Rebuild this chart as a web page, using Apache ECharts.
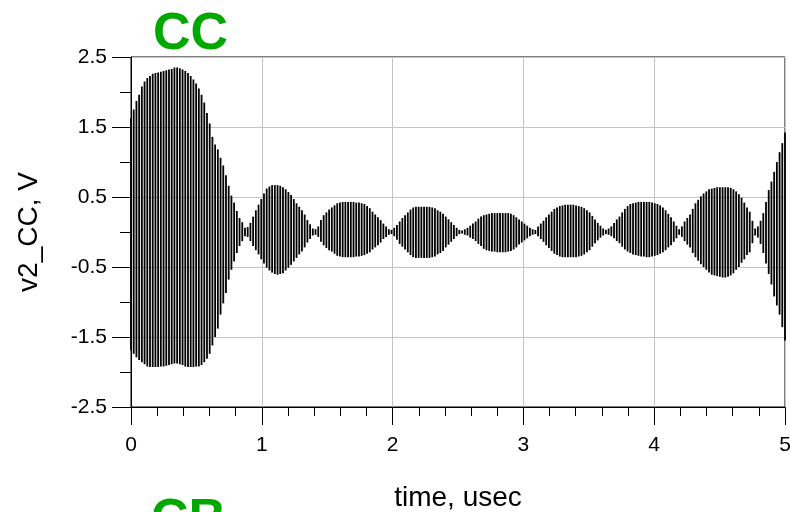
<!DOCTYPE html>
<html>
<head>
<meta charset="utf-8">
<script src="https://cdn.jsdelivr.net/npm/echarts@6/dist/echarts.min.js"></script>
<style>
html,body{margin:0;padding:0;background:#fff;}
#c{width:790px;height:512px;}
</style>
</head>
<body>
<div id="c"></div>
<script>
// Transient waveform v2_CC (V) vs time (usec); one entry per carrier cycle
const sampleStep = 5 / 241; // usec between cycles
const peakHigh = [
1.63,1.75,1.87,1.96,2.08,2.15,2.20,2.23,2.26,2.27,
2.28,2.29,2.30,2.31,2.32,2.33,2.35,2.35,2.34,2.32,
2.30,2.27,2.23,2.18,2.12,2.05,1.96,1.85,1.70,1.55,
1.36,1.25,1.18,1.06,0.95,0.81,0.66,0.52,0.42,0.30,
0.20,0.14,0.06,0.07,0.13,0.22,0.31,0.39,0.47,0.55,
0.62,0.65,0.67,0.67,0.67,0.66,0.64,0.61,0.57,0.53,
0.47,0.41,0.36,0.31,0.25,0.17,0.11,0.05,0.04,0.08,
0.17,0.24,0.28,0.32,0.35,0.38,0.41,0.42,0.43,0.43,
0.43,0.43,0.43,0.42,0.42,0.41,0.40,0.37,0.34,0.29,
0.25,0.21,0.17,0.12,0.08,0.04,0.03,0.06,0.10,0.15,
0.20,0.24,0.28,0.32,0.35,0.36,0.36,0.36,0.36,0.36,
0.36,0.35,0.34,0.31,0.29,0.26,0.22,0.18,0.14,0.10,
0.06,0.03,0.02,0.04,0.06,0.09,0.12,0.15,0.19,0.22,
0.24,0.25,0.26,0.27,0.27,0.27,0.27,0.27,0.27,0.27,
0.26,0.24,0.21,0.18,0.15,0.12,0.09,0.06,0.04,0.03,
0.08,0.12,0.16,0.21,0.25,0.29,0.33,0.35,0.37,0.38,
0.39,0.39,0.39,0.39,0.38,0.37,0.36,0.34,0.31,0.28,
0.23,0.18,0.13,0.09,0.05,0.03,0.05,0.08,0.13,0.18,
0.22,0.28,0.33,0.37,0.40,0.41,0.42,0.43,0.43,0.43,
0.43,0.43,0.42,0.41,0.40,0.38,0.35,0.31,0.26,0.21,
0.15,0.09,0.04,0.08,0.15,0.20,0.25,0.33,0.41,0.46,
0.51,0.55,0.58,0.61,0.62,0.63,0.64,0.64,0.64,0.64,
0.64,0.63,0.61,0.58,0.54,0.49,0.42,0.35,0.29,0.16,
0.05,0.08,0.16,0.27,0.43,0.60,0.72,0.86,1.00,1.14,
1.27,1.42
];
const peakLow = [
-1.69,-1.74,-1.79,-1.83,-1.86,-1.89,-1.92,-1.93,-1.93,-1.93,
-1.93,-1.92,-1.92,-1.91,-1.90,-1.89,-1.88,-1.88,-1.89,-1.90,
-1.92,-1.93,-1.93,-1.93,-1.92,-1.92,-1.90,-1.86,-1.81,-1.74,
-1.62,-1.50,-1.38,-1.18,-1.02,-0.87,-0.68,-0.54,-0.42,-0.30,
-0.20,-0.13,-0.06,-0.07,-0.13,-0.20,-0.26,-0.32,-0.39,-0.45,
-0.51,-0.55,-0.58,-0.60,-0.61,-0.60,-0.59,-0.55,-0.51,-0.47,
-0.42,-0.37,-0.32,-0.28,-0.22,-0.15,-0.10,-0.05,-0.04,-0.07,
-0.14,-0.19,-0.23,-0.26,-0.28,-0.31,-0.34,-0.35,-0.36,-0.36,
-0.36,-0.36,-0.36,-0.35,-0.35,-0.34,-0.33,-0.31,-0.29,-0.25,
-0.22,-0.19,-0.15,-0.10,-0.07,-0.04,-0.03,-0.06,-0.11,-0.17,
-0.21,-0.25,-0.29,-0.33,-0.36,-0.37,-0.37,-0.37,-0.37,-0.37,
-0.37,-0.36,-0.35,-0.32,-0.30,-0.27,-0.22,-0.18,-0.14,-0.10,
-0.06,-0.03,-0.02,-0.04,-0.05,-0.08,-0.10,-0.13,-0.17,-0.20,
-0.24,-0.26,-0.27,-0.28,-0.28,-0.29,-0.29,-0.29,-0.29,-0.28,
-0.27,-0.25,-0.22,-0.18,-0.15,-0.12,-0.09,-0.06,-0.04,-0.03,
-0.06,-0.10,-0.14,-0.19,-0.23,-0.27,-0.31,-0.33,-0.35,-0.36,
-0.36,-0.36,-0.36,-0.36,-0.36,-0.35,-0.34,-0.32,-0.29,-0.26,
-0.21,-0.16,-0.12,-0.08,-0.05,-0.03,-0.04,-0.06,-0.09,-0.13,
-0.16,-0.21,-0.25,-0.28,-0.30,-0.32,-0.33,-0.34,-0.35,-0.35,
-0.36,-0.36,-0.35,-0.34,-0.33,-0.31,-0.29,-0.26,-0.22,-0.19,
-0.14,-0.09,-0.04,-0.07,-0.13,-0.18,-0.22,-0.30,-0.36,-0.41,
-0.46,-0.50,-0.54,-0.58,-0.61,-0.62,-0.63,-0.64,-0.65,-0.65,
-0.64,-0.62,-0.59,-0.54,-0.50,-0.44,-0.39,-0.33,-0.29,-0.16,
-0.05,-0.08,-0.17,-0.30,-0.45,-0.60,-0.75,-0.92,-1.05,-1.18,
-1.36,-1.55
];
const yTickLabels = ['-2.5','-1.5','-0.5','0.5','1.5','2.5'];
const xTickLabels = ['0','1','2','3','4','5'];
const yOffset = 2.5; // axis drawn in offset units so ticks fall on the odd half-volts
const titleTop = 'CC';
const titleBottom = 'CB';
const xName = 'time, usec';
const yName = 'v2_CC, V';

const cycles = peakHigh.map((h, i) => [i * sampleStep, h + yOffset, peakLow[i] + yOffset]);

const chart = echarts.init(document.getElementById('c'), null, {renderer: 'canvas'});
const FONT = '"Liberation Sans", Arial, sans-serif';
chart.setOption({
  animation: false,
  backgroundColor: '#fff',
  grid: {left: 131, right: 5, top: 57, bottom: 105, containLabel: false, outerBoundsMode: 'none',
    show: true, borderColor: '#000', borderWidth: 1, backgroundColor: 'transparent'},
  xAxis: {
    type: 'value', min: 0, max: 5, interval: 1,
    name: xName, nameLocation: 'middle', nameGap: 77,
    nameTextStyle: {fontFamily: FONT, fontSize: 28, color: '#000'},
    axisLine: {show: true, lineStyle: {color: '#000', width: 1}},
    axisTick: {show: true, length: 18, lineStyle: {color: '#000'}},
    minorTick: {show: true, splitNumber: 5, length: 9, lineStyle: {color: '#000'}},
    axisLabel: {margin: 28, fontFamily: FONT, fontSize: 21, color: '#000', showMinLabel: true, showMaxLabel: true,
      formatter: v => xTickLabels[Math.round(v)]},
    splitLine: {show: true, lineStyle: {color: '#c4c4c4', width: 1}}
  },
  yAxis: {
    type: 'value', min: 0, max: 5, interval: 1,
    name: yName, nameLocation: 'middle', nameGap: 88, nameRotate: 90,
    nameTextStyle: {fontFamily: FONT, fontSize: 28, color: '#000'},
    axisLine: {show: true, lineStyle: {color: '#000', width: 1}},
    axisTick: {show: true, length: 19, lineStyle: {color: '#000'}},
    minorTick: {show: true, splitNumber: 2, length: 11, lineStyle: {color: '#000'}},
    axisLabel: {margin: 24, fontFamily: FONT, fontSize: 21, color: '#000', showMinLabel: true, showMaxLabel: true,
      formatter: v => yTickLabels[Math.round(v)]},
    splitLine: {show: true, lineStyle: {color: '#c4c4c4', width: 1}}
  },
  graphic: [
    {type: 'text', left: 153, top: 9, silent: true,
      style: {text: titleTop, fill: '#00a800', font: 'bold 52px ' + FONT}},
    {type: 'text', left: 151, top: 495, silent: true,
      style: {text: titleBottom, fill: '#00a800', font: 'bold 52px ' + FONT}}
  ],
  series: [{
    type: 'custom',
    data: cycles,
    encode: {x: 0, y: [1, 2]},
    renderItem: function (params, api) {
      const top = api.coord([api.value(0), api.value(1)]);
      const bot = api.coord([api.value(0), api.value(2)]);
      return {
        type: 'rect',
        shape: {x: top[0] - 0.9, y: top[1], width: 1.8, height: bot[1] - top[1]},
        style: {fill: '#000'}
      };
    }
  }]
});
</script>
</body>
</html>
